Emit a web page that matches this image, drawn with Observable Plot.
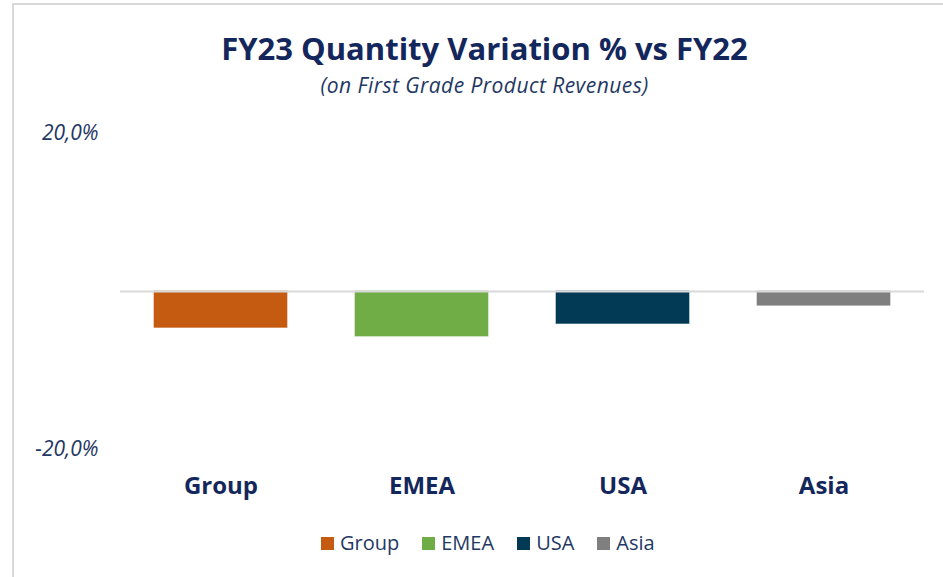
<!DOCTYPE html>
<html>
<head>
<meta charset="utf-8">
<script src="https://cdn.jsdelivr.net/npm/d3@7"></script>
<script src="https://cdn.jsdelivr.net/npm/@observablehq/plot@0.6"></script>
<style>
  html, body { margin: 0; padding: 0; background: #fff; }
  #frame { position: relative; width: 943px; height: 577px; overflow: hidden; font-family: "Open Sans", "Noto Sans", sans-serif; }
  #topline { position: absolute; left: 13px; top: 3px; width: 930px; height: 2px; background: #d9d9d9; }
  #leftline { position: absolute; left: 12px; top: 3px; width: 2px; height: 574px; background: #d9d9d9; }
  #title { position: absolute; left: 0; width: 969px; top: 28px; text-align: center; font-weight: 700; font-size: 31px; color: #14275c; letter-spacing: 0px; line-height: 40px; }
  #subtitle { position: absolute; left: 0; width: 969px; top: 70px; text-align: center; font-style: italic; font-size: 21px; color: #1f3864; line-height: 30px; letter-spacing: 0.45px; }
  #chart { position: absolute; left: 0; top: 110px; }
  #legend { position: absolute; top: 529px; left: 321px; display: flex; align-items: center; font-size: 20px; color: #1f3864; line-height: 28px; letter-spacing: 0px; }
  .item { display: flex; align-items: center; margin-right: 23px; }
  .sw { width: 13px; height: 13px; margin-right: 6px; }
</style>
</head>
<body>
<div id="frame">
  <div id="topline"></div>
  <div id="leftline"></div>
  <div id="title">FY23 Quantity Variation % vs FY22</div>
  <div id="subtitle">(on First Grade Product Revenues)</div>
  <div id="chart"></div>
  <div id="legend"></div>
</div>
<script>
const categories = ["Group", "EMEA", "USA", "Asia"];
const values = [-4.6, -5.7, -4.1, -1.8];
const colors = ["#c55a11", "#70ad47", "#023a56", "#7f7f7f"];
const yTicks = [20, -20];

const data = categories.map((c, i) => ({category: c, value: values[i]}));
const fmt = d => d.toFixed(1).replace(".", ",") + "%";

const chart = Plot.plot({
  width: 943,
  height: 400,
  marginLeft: 120,
  marginRight: 19,
  marginTop: 23,
  marginBottom: 61,
  style: {background: "transparent", overflow: "visible"},
  x: {domain: categories, paddingInner: 0.338, paddingOuter: 0.169, label: null},
  y: {domain: [-20, 20], label: null},
  color: {domain: categories, range: colors},
  marks: [
    Plot.barY(data, {x: "category", y: "value", fill: "category", stroke: "category", strokeOpacity: 0.6, strokeWidth: 1}),
    Plot.ruleY([0], {stroke: "#d9d9d9", strokeWidth: 2}),
    Plot.axisY(yTicks, {tickSize: 0, tickPadding: 22, tickFormat: fmt, fontSize: 21, fontStyle: "italic", fill: "#1f3864", fontFamily: "Open Sans"}),
    Plot.axisX({tickSize: 0, tickPadding: 27, fontSize: 24, fontWeight: "bold", fill: "#14275c", fontFamily: "Open Sans", label: null})
  ]
});
document.getElementById("chart").appendChild(chart);

const legend = document.getElementById("legend");
categories.forEach((c, i) => {
  const it = document.createElement("div");
  it.className = "item";
  const sw = document.createElement("div");
  sw.className = "sw";
  sw.style.background = colors[i];
  const t = document.createElement("span");
  t.textContent = c;
  it.appendChild(sw);
  it.appendChild(t);
  legend.appendChild(it);
});
</script>
</body>
</html>
